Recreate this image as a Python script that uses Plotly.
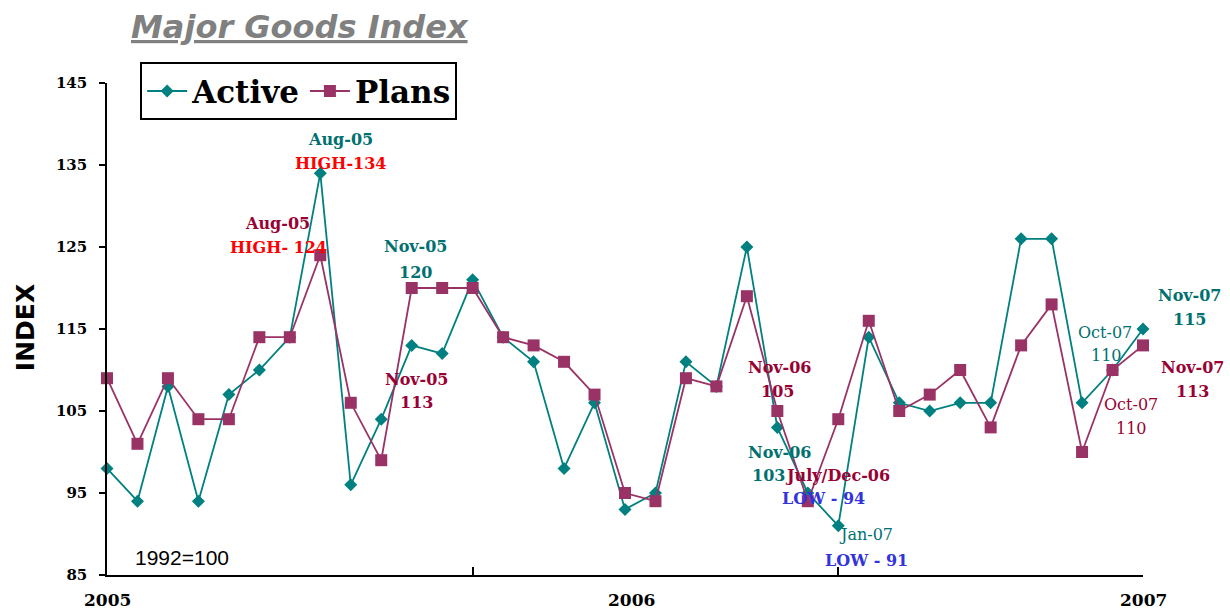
import plotly.graph_objects as go

# ---- data -------------------------------------------------------------
months = ["Jan-05","Feb-05","Mar-05","Apr-05","May-05","Jun-05","Jul-05","Aug-05","Sep-05","Oct-05","Nov-05","Dec-05",
          "Jan-06","Feb-06","Mar-06","Apr-06","May-06","Jun-06","Jul-06","Aug-06","Sep-06","Oct-06","Nov-06","Dec-06",
          "Jan-07","Feb-07","Mar-07","Apr-07","May-07","Jun-07","Jul-07","Aug-07","Sep-07","Oct-07","Nov-07"]
active = [98, 94, 108, 94, 107, 110, 114, 134, 96, 104, 113, 112,
          121, 114, 111, 98, 106, 93, 95, 111, 108, 125, 103, 95,
          91, 114, 106, 105, 106, 106, 126, 126, 106, 110, 115]
plans = [109, 101, 109, 104, 104, 114, 114, 124, 106, 99, 120, 120,
         120, 114, 113, 111, 107, 95, 94, 109, 108, 119, 105, 94,
         104, 116, 105, 107, 110, 103, 113, 118, 100, 110, 113]
y_ticks = [85, 95, 105, 115, 125, 135, 145]
year_labels = ["2005", "2006", "2007"]
year_pos = [0, 17.2, 34]
x_tick_marks = [12, 24]

x = list(range(len(months)))

TEAL = "#008080"
PLUM = "#993366"
TEAL_T = "#007070"
MAROON_T = "#990033"
RED = "#FF0000"
BLUE = "#3333DD"
SERIF = "DejaVu Serif"

fig = go.Figure()
fig.add_trace(go.Scatter(x=x, y=active, name="Active", mode="lines+markers",
                         line=dict(color=TEAL, width=1.8),
                         marker=dict(symbol="diamond", size=10, color=TEAL),
                         cliponaxis=False, hovertext=months))
fig.add_trace(go.Scatter(x=x, y=plans, name="Plans", mode="lines+markers",
                         line=dict(color=PLUM, width=1.8),
                         marker=dict(symbol="square", size=12, color=PLUM),
                         cliponaxis=False, hovertext=months))

# ---- annotations inside the plot (text, x, y, colour, bold) -------------
labels = [
    ("Aug-05", 7.65, 138.1, TEAL_T, True),
    ("HIGH-134", 7.65, 135.2, RED, True),
    ("Aug-05", 5.58, 127.9, MAROON_T, True),
    ("HIGH- 124", 5.64, 125.0, RED, True),
    ("Nov-05", 10.14, 125.1, TEAL_T, True),
    ("120", 10.14, 121.9, TEAL_T, True),
    ("Nov-05", 10.17, 108.9, MAROON_T, True),
    ("113", 10.17, 106.0, MAROON_T, True),
    ("Nov-06", 22.09, 110.3, MAROON_T, True),
    ("105", 22.02, 107.4, MAROON_T, True),
    ("Nov-06", 22.09, 100.0, TEAL_T, True),
    ("103", 21.72, 97.1, TEAL_T, True),
    ("July/Dec-06", 23.98, 97.1, MAROON_T, True),
    ("LOW - 94", 23.53, 94.3, BLUE, True),
    ("Jan-07", 24.9, 90.0, TEAL_T, False),
    ("LOW - 91", 24.94, 86.8, BLUE, True),
    ("Oct-07", 32.75, 114.6, TEAL_T, False),
    ("110", 32.79, 111.8, TEAL_T, False),
    ("Oct-07", 33.61, 105.8, MAROON_T, False),
    ("110", 33.61, 102.9, MAROON_T, False),
]
for t, ax, ay, c, b in labels:
    fig.add_annotation(x=ax, y=ay, xref="x", yref="y", text=t, showarrow=False,
                       font=dict(family=SERIF, size=16, color=c, weight="bold" if b else "normal"),
                       xanchor="center", yanchor="middle")

# labels to the right of the plot area (paper x, data y)
right_labels = [
    ("Nov-07", 1.045, 119.1, TEAL_T),
    ("115", 1.045, 116.1, TEAL_T),
    ("Nov-07", 1.048, 110.3, MAROON_T),
    ("113", 1.048, 107.4, MAROON_T),
]
for t, ax, ay, c in right_labels:
    fig.add_annotation(x=ax, y=ay, xref="paper", yref="y", text=t, showarrow=False,
                       font=dict(family=SERIF, size=16, color=c, weight="bold"),
                       xanchor="center", yanchor="middle")

fig.add_annotation(x=2.46, y=87.1, xref="x", yref="y", text="1992=100", showarrow=False,
                   font=dict(family="Liberation Sans", size=21, color="black"),
                   xanchor="center", yanchor="middle")

for lbl, pos in zip(year_labels, year_pos):
    fig.add_annotation(x=pos, y=-0.051, xref="x", yref="paper", text=lbl, showarrow=False,
                       font=dict(family=SERIF, size=17, color="black", weight="bold"),
                       xanchor="center", yanchor="middle")

# y-axis title
fig.add_annotation(x=-0.079, y=0.502, xref="paper", yref="paper", text="INDEX", showarrow=False,
                   textangle=-90, font=dict(family="DejaVu Sans", size=25, color="black", weight="bold"),
                   xanchor="center", yanchor="middle")

# chart title
fig.add_annotation(x=0.1863, y=1.113, xref="paper", yref="paper",
                   text="<u><i>Major Goods Index</i></u>", showarrow=False,
                   font=dict(family="DejaVu Sans", size=32, color="#808080", weight="bold"),
                   xanchor="center", yanchor="middle")

fig.update_layout(
    width=1230, height=611,
    margin=dict(l=107, r=87, t=83, b=36),
    paper_bgcolor="white", plot_bgcolor="white",
    showlegend=True,
    legend=dict(orientation="h", x=0.032, y=1.042, xanchor="left", yanchor="top",
                bordercolor="black", borderwidth=2, bgcolor="white",
                font=dict(family=SERIF, size=31, color="black", weight="bold"),
                itemwidth=40),
    xaxis=dict(range=[0, 34], showgrid=False, zeroline=False, showline=True,
               linecolor="black", linewidth=1.5, tickvals=x_tick_marks,
               ticktext=["" for _ in x_tick_marks], ticks="inside", ticklen=8,
               tickcolor="black", tickwidth=1.5),
    yaxis=dict(range=[85, 145], showgrid=False, zeroline=False, showline=True,
               linecolor="black", linewidth=1.5, tickvals=y_ticks, ticks="outside",
               ticklen=6, tickcolor="black", tickwidth=1.5, ticklabelstandoff=9,
               tickfont=dict(family=SERIF, size=15, color="black", weight="bold")),
)

fig.write_html("out.html")
